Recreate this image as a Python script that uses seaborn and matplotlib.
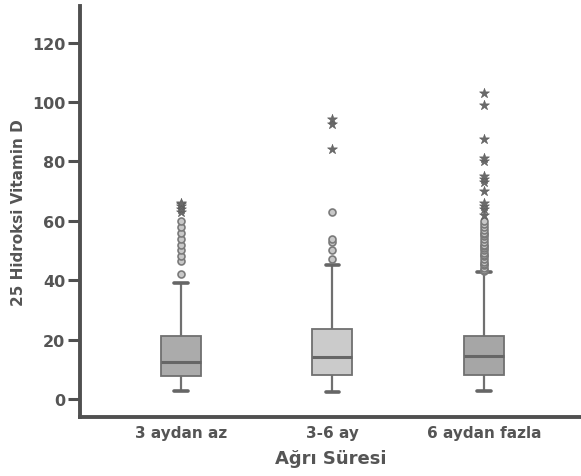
import matplotlib
matplotlib.use("Agg")
import matplotlib.pyplot as plt
import seaborn as sns
import pandas as pd

categories = ["3 aydan az", "3-6 ay", "6 aydan fazla"]
# box summary: lower whisker, Q1, median, Q3, upper whisker
whisker_low = [2.8, 2.3, 2.8]
q1 = [7.8, 8.1, 8.1]
median = [12.6, 14.0, 14.4]
q3 = [21.3, 23.6, 21.3]
whisker_high = [39.0, 45.2, 42.7]

# outliers (circles) and extremes (stars)
out_circles_1 = [42, 46.5, 48, 50, 52, 54, 56, 58, 60]
out_circles_2 = [47, 50, 53, 54, 63]
out_circles_3 = [43, 43.5, 44, 45, 45.5, 46, 47, 48, 48.5, 49, 50, 51, 51.5, 52,
                 53, 54, 55, 55.5, 56, 57, 58, 59, 60]
out_stars_1 = [63, 64, 65, 65.5, 66]
out_stars_2 = [84.2, 92.5, 94.3]
out_stars_3 = [62, 64, 65, 66, 70, 73, 74, 75, 80, 81, 87.5, 99.1, 102.9]

box_colors = ["#ababab", "#cbcbcb", "#a6a6a6"]

rows = []
for i, c in enumerate(categories):
    for v in (whisker_low[i], q1[i], median[i], q3[i], whisker_high[i]):
        rows.append({"grp": c, "val": v})
box_df = pd.DataFrame(rows)

circ = pd.DataFrame(
    [{"grp": categories[0], "val": v} for v in out_circles_1]
    + [{"grp": categories[1], "val": v} for v in out_circles_2]
    + [{"grp": categories[2], "val": v} for v in out_circles_3])
star = pd.DataFrame(
    [{"grp": categories[0], "val": v} for v in out_stars_1]
    + [{"grp": categories[1], "val": v} for v in out_stars_2]
    + [{"grp": categories[2], "val": v} for v in out_stars_3])

sns.set_style("white")
plt.rcParams["font.family"] = ["DejaVu Sans"]

fig = plt.figure(figsize=(5.81, 4.77), dpi=100)
ax = fig.add_axes([0.1377, 0.1237, 0.862, 0.861])

edge = "#707070"
sns.boxplot(data=box_df, x="grp", y="val", hue="grp", order=categories,
            hue_order=categories, palette=box_colors, whis=(0, 100),
            showfliers=False, width=0.264, legend=False, ax=ax,
            linewidth=1.3, linecolor=edge,
            medianprops=dict(color="#666666", linewidth=2.2),
            whiskerprops=dict(color=edge, linewidth=1.6),
            capprops=dict(color="#666666", linewidth=2.6),
            capwidths=0.09)

sns.stripplot(data=circ, x="grp", y="val", order=categories, jitter=False,
              marker="o", size=5, color="#c8c8c8", edgecolor="#7a7a7a",
              linewidth=1.2, ax=ax, zorder=3)
sns.stripplot(data=star, x="grp", y="val", order=categories, jitter=False,
              marker="*", size=7.5, color="#6a6a6a", edgecolor="#5a5a5a",
              linewidth=0.4, ax=ax, zorder=4)

ax.set_xlim(-0.667, 2.64)
ax.set_ylim(-6.06, 132.2)
ax.set_yticks([0, 20, 40, 60, 80, 100, 120])

dark = "#505050"
for s in ["top", "right"]:
    ax.spines[s].set_visible(False)
for s in ["left", "bottom"]:
    ax.spines[s].set_color(dark)
    ax.spines[s].set_linewidth(2.8)

ax.tick_params(axis="y", length=8.5, width=2.2, color=dark, labelsize=11.5,
               labelcolor="#555555", pad=2, left=True)
ax.tick_params(axis="x", length=0, labelsize=11, labelcolor="#555555", pad=6)
for lbl in ax.get_yticklabels() + ax.get_xticklabels():
    lbl.set_fontweight("bold")

ax.set_xlabel("Ağrı Süresi", fontsize=13, fontweight="bold", color="#555555",
              labelpad=6)
ax.set_ylabel("25 Hidroksi Vitamin D", fontsize=11, fontweight="bold",
              color="#555555", labelpad=4)

fig.savefig("out.png", dpi=100)
